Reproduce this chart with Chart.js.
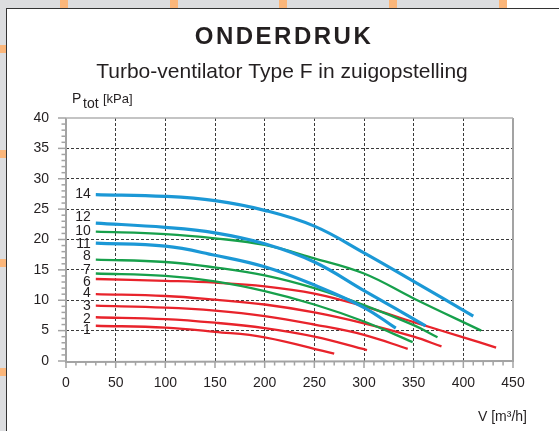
<!DOCTYPE html>
<html>
<head>
<meta charset="utf-8">
<script src="https://cdn.jsdelivr.net/npm/chart.js@4.4.1/dist/chart.umd.min.js"></script>
<style>
  html, body { margin:0; padding:0; }
  body { width:559px; height:431px; background:#dcdddf; position:relative; overflow:hidden; }
  #topwhite { position:absolute; left:506px; top:0; width:53px; height:8px; background:#fff; }
  #panel { position:absolute; left:6px; top:8px; width:560px; height:430px; background:#fff;
           border-left:1px solid #333; border-top:1px solid #333; }
  .om { position:absolute; background:#fbb67a; }
  canvas { position:absolute; left:0; top:0; }
</style>
</head>
<body>
<div id="topwhite"></div>
<div class="om" style="left:60px;top:0;width:8px;height:8px"></div>
<div class="om" style="left:170px;top:0;width:8px;height:8px"></div>
<div class="om" style="left:279px;top:0;width:8px;height:8px"></div>
<div class="om" style="left:389px;top:0;width:8px;height:8px"></div>
<div class="om" style="left:499px;top:0;width:8px;height:8px"></div>
<div class="om" style="left:0;top:45px;width:6px;height:8px"></div>
<div class="om" style="left:0;top:150px;width:6px;height:8px"></div>
<div class="om" style="left:0;top:259px;width:6px;height:8px"></div>
<div class="om" style="left:0;top:368px;width:6px;height:8px"></div>
<div id="panel"></div>
<canvas id="c" width="559" height="431"></canvas>
<script>
// ---- data (V in m3/h, Ptot in kPa) ----
const curveNames = ["14","12","10","11","8","7","6","4","3","2","1"];
const curveColors = ["blue","blue","green","blue","green","green","red","red","red","red","red"];
const c14 = [[30,27.4],[100,27.1],[150,26.4],[200,24.8],[250,22.2],[300,17.8],[350,13.1],[410,7.4]];
const c12 = [[30,22.7],[100,22.0],[150,21.1],[200,19.3],[250,16.3],[300,11.6],[362,5.8]];
const c10 = [[30,21.3],[100,20.9],[150,20.2],[200,19.1],[250,16.9],[300,14.4],[350,10.3],[418,5.0]];
const c11 = [[30,19.4],[100,18.9],[150,17.4],[200,15.5],[250,12.5],[300,8.8],[332,5.4]];
const c8  = [[30,16.7],[100,16.3],[150,15.4],[200,14.1],[250,12.0],[300,9.2],[350,5.9],[374,3.9]];
const c7  = [[30,14.4],[100,14.0],[150,13.1],[200,11.5],[250,9.3],[300,6.5],[349,3.1]];
const c6  = [[30,13.5],[100,13.2],[150,12.9],[200,12.3],[250,11.1],[300,9.0],[350,6.4],[400,3.9],[433,2.2]];
const c4  = [[30,11.0],[100,10.7],[150,10.1],[200,9.3],[250,8.0],[300,6.2],[350,4.0],[378,2.4]];
const c3  = [[30,9.1],[100,8.8],[150,8.3],[200,7.4],[250,6.0],[300,4.3],[344,2.0]];
const c2  = [[30,7.2],[100,6.9],[150,6.3],[200,5.4],[250,4.0],[303,1.8]];
const c1  = [[30,5.8],[100,5.5],[150,4.8],[200,3.9],[270,1.2]];
const curves = [c14,c12,c10,c11,c8,c7,c6,c4,c3,c2,c1];
const labelY = [27.4,23.6,21.3,19.3,17.3,14.9,13.0,11.1,9.0,6.9,5.1];
const xTicks = [0,50,100,150,200,250,300,350,400,450];
const yTicks = [0,5,10,15,20,25,30,35,40];

const palette = { blue:"#1b98d6", green:"#17a04b", red:"#e8232b" };
const widths = { blue:3.2, green:2.3, red:2.3 };

const datasets = curves.map((pts,i)=>({
  label: curveNames[i],
  data: pts.map(p=>({x:p[0], y:p[1]})),
  borderColor: palette[curveColors[i]],
  borderWidth: widths[curveColors[i]],
  showLine: true, pointRadius: 0, fill: false,
  tension: 0.4
}));

const FONT = "'Liberation Sans', Arial, Helvetica, sans-serif";

const deco = {
  id:'deco',
  beforeDatasetsDraw(chart){
    const {ctx, scales:{x,y}} = chart;
    const L=x.getPixelForValue(0), R=x.getPixelForValue(450), T=y.getPixelForValue(40), B=y.getPixelForValue(0);
    ctx.save();
    ctx.strokeStyle='#a3a3a3';
    ctx.lineWidth=1.5;
    for(let v=0; v<=450; v+=10){
      const px=x.getPixelForValue(v); const len = (v%50===0)?7:4.5;
      ctx.beginPath(); ctx.moveTo(px,B); ctx.lineTo(px,B+len); ctx.stroke();
    }
    for(let v=0; v<=40; v+=1){
      const py=y.getPixelForValue(v); const len = (v%5===0)?8:4.5;
      ctx.beginPath(); ctx.moveTo(L,py); ctx.lineTo(L-len,py); ctx.stroke();
    }
    ctx.lineWidth=2;
    ctx.beginPath(); ctx.moveTo(L,T); ctx.lineTo(L,B+1); ctx.lineTo(R+1,B); ctx.stroke();
    ctx.beginPath(); ctx.moveTo(R,B); ctx.lineTo(R,T); ctx.stroke();
    ctx.lineWidth=1.5; ctx.strokeStyle='#b0b0b0';
    ctx.beginPath(); ctx.moveTo(L,T); ctx.lineTo(R,T); ctx.stroke();
    ctx.restore();
  },
  afterDatasetsDraw(chart){
    const {ctx, scales:{x,y}} = chart;
    ctx.save();
    ctx.fillStyle='#231f20';
    ctx.font = "14px "+FONT; ctx.textAlign='right'; ctx.textBaseline='middle';
    curves.forEach((pts,i)=>{
      ctx.fillText(curveNames[i], x.getPixelForValue(pts[0][0])-5, y.getPixelForValue(labelY[i]));
    });
    ctx.textAlign='center'; ctx.textBaseline='alphabetic';
    ctx.font = "bold 24px "+FONT;
    ctx.letterSpacing = '2.5px';
    ctx.fillText("ONDERDRUK", 284, 44);
    ctx.letterSpacing = '0px';
    ctx.font = "21px "+FONT;
    ctx.fillText("Turbo-ventilator Type F in zuigopstelling", 282, 78);
    ctx.textAlign='left';
    ctx.font = "14px "+FONT;
    ctx.fillText("P", 72, 103);
    ctx.fillText("tot", 83, 108);
    ctx.font = "13px "+FONT;
    ctx.fillText("[kPa]", 103, 103);
    ctx.font = "14px "+FONT;
    ctx.textAlign='right';
    ctx.fillText("V [m³/h]", 527, 421);
    ctx.restore();
  }
};

new Chart(document.getElementById('c'), {
  type:'scatter',
  data:{ datasets },
  options:{
    responsive:false, animation:false, devicePixelRatio:1,
    layout:{ padding:{ left:0, right:46, top:118, bottom:0 } },
    plugins:{ legend:{display:false}, tooltip:{enabled:false}, title:{display:false} },
    scales:{
      x:{ type:'linear', min:0, max:450,
          afterBuildTicks(s){ s.ticks = xTicks.map(v=>({value:v})); },
          afterFit(s){ s.height = 70; },
          ticks:{ padding:14, color:'#231f20', font:{ size:14, family:FONT }, maxRotation:0 },
          grid:{ drawTicks:false, lineWidth:1, color:(c)=> (c.tick && (c.tick.value===0||c.tick.value===450))?'rgba(0,0,0,0)':'#3a3a3a' },
          border:{ display:false, dash:[3,2] } },
      y:{ type:'linear', min:0, max:40,
          afterBuildTicks(s){ s.ticks = yTicks.map(v=>({value:v})); },
          afterFit(s){ s.width = 66; },
          ticks:{ padding:17, color:'#231f20', font:{ size:14, family:FONT } },
          grid:{ drawTicks:false, lineWidth:1, color:(c)=> (c.tick && (c.tick.value===0||c.tick.value===40))?'rgba(0,0,0,0)':'#3a3a3a' },
          border:{ display:false, dash:[3,2] } }
    }
  },
  plugins:[deco]
});
</script>
</body>
</html>
